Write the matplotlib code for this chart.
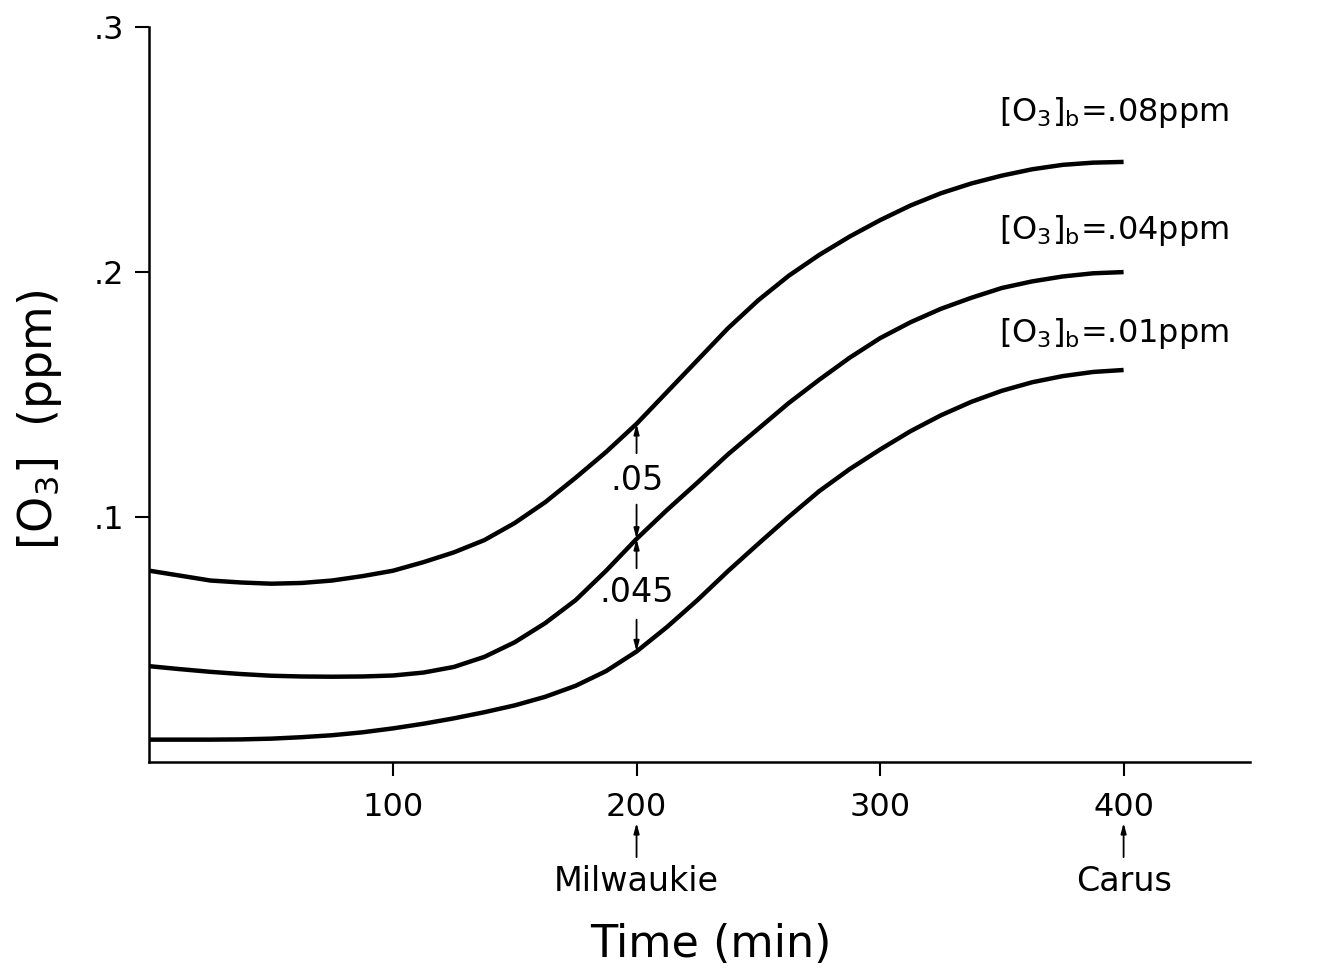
import numpy as np
import matplotlib.pyplot as plt

plt.rcParams["font.family"] = "DejaVu Sans"
plt.rcParams["mathtext.default"] = "regular"

# ── data: ozone along the trajectory (ppm), every 12.5 min ────────
time_min = [0, 12.5, 25, 37.5, 50, 62.5, 75, 87.5, 100, 112.5, 125, 137.5, 150, 162.5,
            175, 187.5, 200, 212.5, 225, 237.5, 250, 262.5, 275, 287.5, 300, 312.5,
            325, 337.5, 350, 362.5, 375, 387.5, 400]
o3_b08 = [0.0780, 0.0760, 0.0740, 0.0732, 0.0727, 0.0730, 0.0740, 0.0758, 0.0780, 0.0815,
          0.0855, 0.0905, 0.0975, 0.1060, 0.1160, 0.1265, 0.1380, 0.1510, 0.1640, 0.1770,
          0.1885, 0.1985, 0.2070, 0.2145, 0.2212, 0.2272, 0.2322, 0.2362, 0.2394, 0.2420,
          0.2438, 0.2447, 0.2450]
o3_b04 = [0.0390, 0.0378, 0.0367, 0.0358, 0.0351, 0.0348, 0.0347, 0.0348, 0.0352, 0.0364,
          0.0387, 0.0428, 0.0488, 0.0566, 0.0660, 0.0780, 0.0910, 0.1028, 0.1140, 0.1255,
          0.1360, 0.1465, 0.1560, 0.1650, 0.1730, 0.1795, 0.1850, 0.1895, 0.1935, 0.1962,
          0.1982, 0.1995, 0.2000]
o3_b01 = [0.0090, 0.0090, 0.0090, 0.0091, 0.0094, 0.0100, 0.0108, 0.0120, 0.0136, 0.0155,
          0.0177, 0.0202, 0.0230, 0.0265, 0.0310, 0.0370, 0.0450, 0.0550, 0.0660, 0.0778,
          0.0890, 0.1000, 0.1105, 0.1195, 0.1275, 0.1350, 0.1415, 0.1470, 0.1515, 0.1550,
          0.1575, 0.1592, 0.1600]
curve_labels = [".08ppm", ".04ppm", ".01ppm"]

x_ticks = [100, 200, 300, 400]
y_ticks = [0.1, 0.2, 0.3]
y_ticklabels = [".1", ".2", ".3"]

# difference markers at Milwaukie (t = 200)
t_mark = 200
diff_top = 0.05
diff_low = 0.045

fig = plt.figure(figsize=(13.23, 9.74), dpi=100)
ax = fig.add_axes([0.113, 0.218, 0.832, 0.754])

for series in (o3_b08, o3_b04, o3_b01):
    ax.plot(time_min, series, color="black", lw=3.2, solid_capstyle="butt",
            solid_joinstyle="round")

ax.set_xlim(0, 452)
ax.set_ylim(0, 0.3)
ax.spines[["top", "right"]].set_visible(False)
ax.spines["left"].set_linewidth(1.8)
ax.spines["bottom"].set_linewidth(1.8)
ax.set_xticks(x_ticks)
ax.set_xticklabels([str(t) for t in x_ticks], fontsize=23)
ax.set_yticks(y_ticks)
ax.set_yticklabels(y_ticklabels, fontsize=23)
ax.tick_params(axis="both", direction="out", length=10, width=1.5)
ax.tick_params(axis="x", pad=12)
ax.tick_params(axis="y", pad=8)

fig.text(0.537, 0.030, "Time (min)", fontsize=32, ha="center", va="center")
fig.text(0.030, 0.569, "[O$_3$]  (ppm)", fontsize=33, ha="center", va="center",
         rotation=90)

# curve labels at the right end
label_y = [0.265, 0.217, 0.175]
for lab, y in zip(curve_labels, label_y):
    ax.text(349, y, "[O$_3$]$_b$=" + lab, fontsize=23, va="center", ha="left")

# vertical dimension arrows between curves at t = 200
i = time_min.index(t_mark)
y_hi, y_mid, y_lo = o3_b08[i], o3_b04[i], o3_b01[i]
arrow_kw = dict(arrowstyle="-|>,head_length=0.6,head_width=0.16", color="black", lw=1.3,
                shrinkA=0, shrinkB=0)

txt_top = 0.115
ax.text(t_mark, txt_top, f"{diff_top:.2f}".lstrip("0"), fontsize=24, ha="center", va="center")
ax.annotate("", xy=(t_mark, y_hi), xytext=(t_mark, txt_top + 0.011), arrowprops=arrow_kw)
ax.annotate("", xy=(t_mark, y_mid), xytext=(t_mark, txt_top - 0.010), arrowprops=arrow_kw)

txt_low = 0.069
ax.text(t_mark, txt_low, f"{diff_low:.3f}".lstrip("0"), fontsize=24, ha="center", va="center")
ax.annotate("", xy=(t_mark, y_mid), xytext=(t_mark, txt_low + 0.010), arrowprops=arrow_kw)
ax.annotate("", xy=(t_mark, y_lo), xytext=(t_mark, txt_low - 0.011), arrowprops=arrow_kw)

# station markers below the time axis
for t, name in [(200, "Milwaukie"), (400, "Carus")]:
    ax.annotate("", xy=(t, -0.025), xytext=(t, -0.039), xycoords="data",
                arrowprops=dict(arrowstyle="-|>,head_length=0.6,head_width=0.16",
                                color="black", lw=1.3, shrinkA=0, shrinkB=0),
                annotation_clip=False)
    ax.text(t, -0.049, name, fontsize=24, ha="center", va="center", clip_on=False)

fig.savefig("out.png", dpi=100)
